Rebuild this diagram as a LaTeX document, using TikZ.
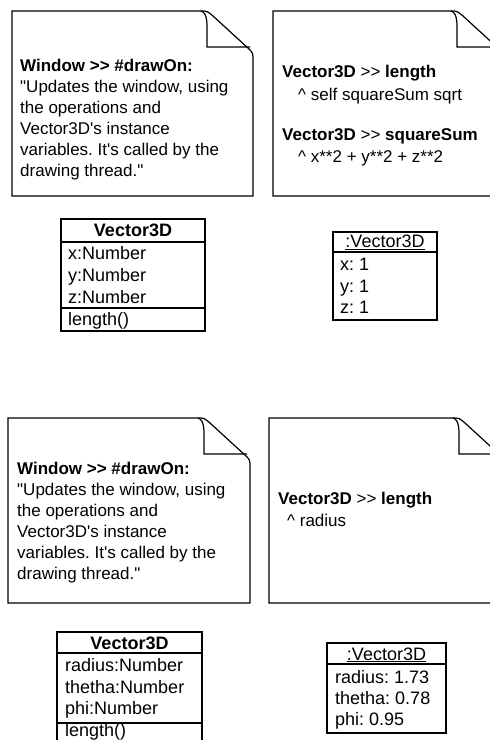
\documentclass[tikz,border=0pt]{standalone}
\usepackage{fontspec}
\setmainfont{Liberation Sans}
\newcommand{\flecha}{>\kern0pt>}
\tikzset{
 linea/.style={line width=1.2pt},
 txt/.style={anchor=base west,inner sep=0pt,font=\fontsize{17}{21}\selectfont},
 ctxt/.style={anchor=base west,inner sep=0pt,font=\fontsize{18}{22}\selectfont},
 ctit/.style={anchor=base,inner sep=0pt,font=\fontsize{18}{22}\selectfont},
}
\newcommand{\nota}[4]{% x1 y1 x2 y2
 \draw[linea] (#1,#2) -- (#3-52,#2) .. controls (#3-46,#2) .. (#3-40,#2+5) -- (#3-4,#2+38) .. controls (#3,#2+42) .. (#3,#2+50) -- (#3,#4) -- (#1,#4) -- cycle;
 \draw[linea] (#3-52,#2) .. controls (#3-45,#2+2) and (#3-46,#2+14) .. (#3-46,#2+25) -- (#3-46,#2+36) -- (#3-3,#2+36);
}

\begin{document}
\frenchspacing
\begin{tikzpicture}[x=1pt,y=-1pt]
\useasboundingbox (0,0) rectangle (490,740);
\clip (0,0) rectangle (490,740);

% notas de la izquierda (iguales arriba y abajo)
\nota{12}{11}{253}{196}
\nota{8}{418}{250}{603}
\foreach \y/\x/\n in {71/20/a,474/17/b} {
 \node[txt] (vent-\n) at (\x,\y) {\textbf{Window \flecha\ \#drawOn:}};
 \foreach \t [count=\i] in {{\textquotedbl Updates the window, using},{the operations and},{Vector3D\textquotesingle s instance},{variables. It\textquotesingle s called by the},{drawing thread.\textquotedbl}}
  \node[txt] (vent-\n-\i) at (\x,\y+21*\i) {\t};
}

% notas de la derecha
\nota{273}{11}{503}{196}
\node[txt] (long-a) at (282,77) {\textbf{Vector3D} \flecha\ \textbf{length}};
\node[txt] (long-a-1) at (298,100) {\textasciicircum\ self squareSum sqrt};
\node[txt] (suma) at (282,140) {\textbf{Vector3D} \flecha\ \textbf{squareSum}};
\node[txt] (suma-1) at (298,162) {\textasciicircum\ x**2 + y**2 + z**2};
\nota{269}{418}{505}{603}
\node[txt] (long-b) at (278,504) {\textbf{Vector3D} \flecha\ \textbf{length}};
\node[txt] (long-b-1) at (287,526) {\textasciicircum\ radius};

% clase cartesiana
\draw[linea] (61,219) rectangle (205,331) (61,242) -- (205,242) (61,308) -- (205,308);
\node[ctit] (clase-a) at (133,236) {\textbf{Vector3D}};
\foreach \t [count=\i] in {x:Number,y:Number,z:Number,length()}
 \node[ctxt] (clase-a-\i) at (68,237.5+22*\i) {\t};

% objeto cartesiano
\draw[linea] (333,232) rectangle (437,320) (333,252) -- (437,252);
\node[ctit] (obj-a) at (385,247.5) {\underline{:Vector3D}};
\foreach \t [count=\i] in {x: 1,y: 1,z: 1}
 \node[ctxt] (obj-a-\i) at (340,249.5+21.3*\i) {\t};

% clase polar
\draw[linea] (57,632) rectangle (202,741) (57,653) -- (202,653) (57,723) -- (202,723);
\node[ctit] (clase-b) at (129.5,649) {\textbf{Vector3D}};
\foreach \t [count=\i] in {radius:Number,thetha:Number,phi:Number,length()}
 \node[ctxt] (clase-b-\i) at (65,649.5+21.8*\i) {\t};

% objeto polar
\draw[linea] (327,643) rectangle (446,733) (327,664) -- (446,664);
\node[ctit] (obj-b) at (386.5,660) {\underline{:Vector3D}};
\foreach \t [count=\i] in {radius: 1.73,thetha: 0.78,phi: 0.95}
 \node[ctxt] (obj-b-\i) at (335,662+21*\i) {\t};

\end{tikzpicture}
\end{document}
